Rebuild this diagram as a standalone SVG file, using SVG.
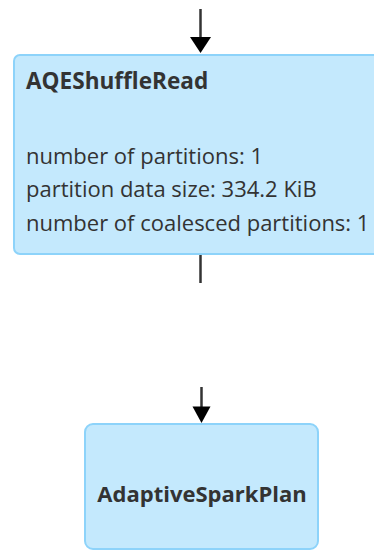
<svg xmlns="http://www.w3.org/2000/svg" width="374" height="551" viewBox="0 0 374 551">
  <style>
    .node rect { fill: #c4e9fd; stroke: #8dd3fa; stroke-width: 2; }
    .title { font-family: "Open Sans", "Noto Sans", "Liberation Sans", sans-serif; font-size: 22px; font-weight: bold; fill: #333333; }
    .metric { font-family: "Open Sans", "Noto Sans", "Liberation Sans", sans-serif; font-size: 22px; fill: #333333; }
    .edge { stroke: #333333; stroke-width: 2.5; fill: none; }
    .head { fill: #000000; }
  </style>

  <g id="edges">
    <!-- incoming edge to AQEShuffleRead -->
    <line class="edge" x1="200.5" y1="9" x2="200.5" y2="40"/>
    <path class="head" d="M190,37 L211,37 L200.5,53 Z"/>
    <!-- edge from AQEShuffleRead to AdaptiveSparkPlan -->
    <line class="edge" x1="200.5" y1="255" x2="200.5" y2="283"/>
    <line class="edge" x1="201.5" y1="387" x2="201.5" y2="409"/>
    <path class="head" d="M192.5,406.5 L210.5,406.5 L201.5,423 Z"/>
  </g>

  <g id="node-aqeshuffleread" class="node">
    <rect x="14" y="55" width="390" height="199" rx="6" ry="6"/>
    <text class="title" x="26" y="89" style="font-size:22.6px">AQEShuffleRead</text>
    <text class="metric" x="26" y="164">number of partitions: 1</text>
    <text class="metric" x="26" y="197">partition data size: 334.2 KiB</text>
    <text class="metric" x="26" y="231">number of coalesced partitions: 1</text>
  </g>

  <g id="node-adaptivesparkplan" class="node">
    <rect x="85" y="424" width="233" height="125" rx="8" ry="8"/>
    <text class="title" x="202" y="502" text-anchor="middle">AdaptiveSparkPlan</text>
  </g>
</svg>
